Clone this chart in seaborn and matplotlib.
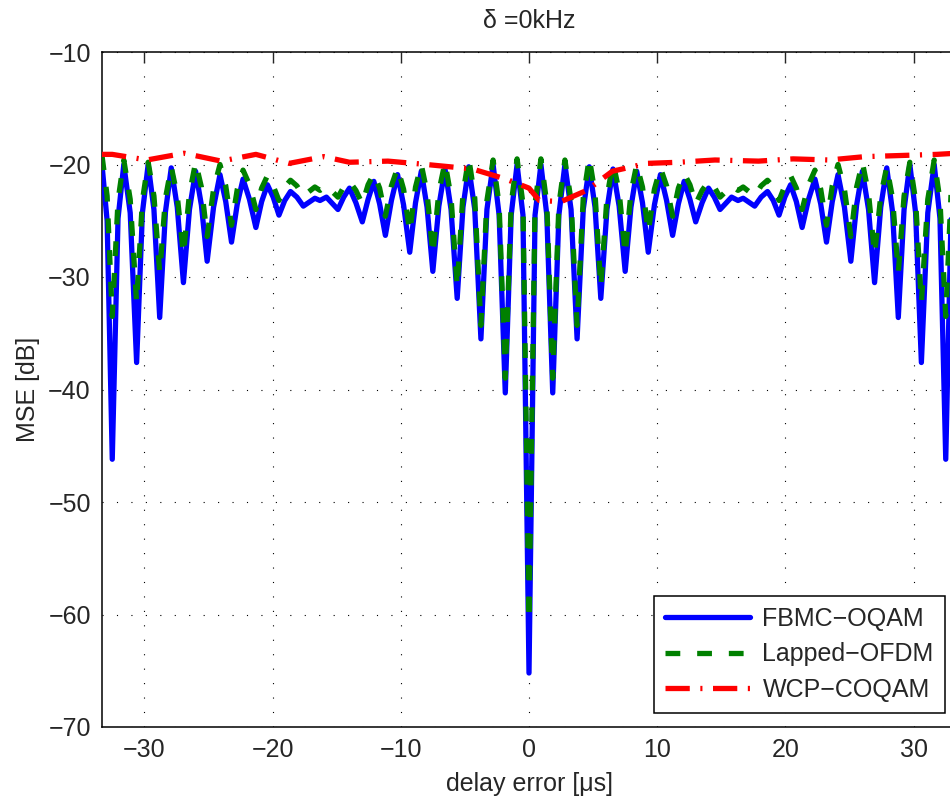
import numpy as np
import pandas as pd
import seaborn as sns
import matplotlib.pyplot as plt

# values (delay error in us, MSE in dB):
# peaks, dips and the level half way between them
x_fbmc = [-33.3, -32.9, -32.5, -32.05, -31.6, -31.1, -30.6, -30.15, -29.7, -29.25,
          -28.8, -28.35, -27.9, -27.43, -26.95, -26.48, -26.0, -25.55, -25.1, -24.6,
          -24.1, -23.65, -23.2, -22.75, -22.3, -21.8, -21.3, -20.85, -20.4, -19.95,
          -19.5, -19.05, -18.6, -18.1, -17.6, -16.7, -16.3, -15.8, -14.9, -14.45,
          -14.0, -13.5, -13.0, -12.55, -12.1, -11.65, -11.2, -10.73, -10.25, -9.78,
          -9.3, -8.85, -8.4, -7.95, -7.5, -7.03, -6.55, -6.08, -5.6, -5.15,
          -4.7, -4.23, -3.75, -3.28, -2.8, -2.33, -1.85, -1.39, -0.93, -0.47,
          0.0,
          0.47, 0.93, 1.39, 1.85, 2.33, 2.8, 3.28, 3.75, 4.23, 4.7,
          5.15, 5.6, 6.08, 6.55, 7.03, 7.5, 7.95, 8.4, 8.85, 9.3,
          9.78, 10.25, 10.73, 11.2, 11.65, 12.1, 12.55, 13.0, 13.5, 14.0,
          14.45, 14.9, 15.8, 16.3, 16.7, 17.6, 18.1, 18.6, 19.05, 19.5,
          19.95, 20.4, 20.85, 21.3, 21.8, 22.3, 22.75, 23.2, 23.65, 24.1,
          24.6, 25.1, 25.55, 26.0, 26.48, 26.95, 27.43, 27.9, 28.35, 28.8,
          29.25, 29.7, 30.15, 30.6, 31.1, 31.6, 32.05, 32.5, 32.9, 33.3]
mse_fbmc = [-20.0, -25.0, -46.2, -24.8, -20.0, -24.3, -37.6, -24.3, -20.0, -24.0,
            -33.6, -24.2, -20.3, -23.8, -30.5, -24.0, -20.6, -23.6, -28.6, -23.8,
            -20.9, -23.3, -26.9, -23.5, -21.3, -23.1, -25.6, -23.3, -21.8, -22.9,
            -24.5, -23.2, -22.4, -22.9, -23.7, -23.0, -23.2, -22.9, -24.0, -22.9,
            -22.1, -23.4, -25.1, -23.1, -21.5, -23.5, -26.3, -23.2, -20.9, -23.6,
            -27.8, -23.4, -20.6, -23.8, -29.5, -23.7, -20.4, -24.0, -31.9, -23.8,
            -20.2, -24.0, -35.5, -24.0, -20.0, -24.5, -40.3, -24.5, -20.0, -24.5,
            -65.2,
            -24.5, -20.0, -24.5, -40.3, -24.5, -20.0, -24.0, -35.5, -24.0, -20.2,
            -23.8, -31.9, -24.0, -20.4, -23.7, -29.5, -23.8, -20.6, -23.4, -27.8,
            -23.6, -20.9, -23.2, -26.3, -23.5, -21.5, -23.1, -25.1, -23.4, -22.1,
            -22.9, -24.0, -22.9, -23.2, -23.0, -23.7, -22.9, -22.4, -23.2, -24.5,
            -22.9, -21.8, -23.3, -25.6, -23.1, -21.3, -23.5, -26.9, -23.3, -20.9,
            -23.8, -28.6, -23.6, -20.6, -24.0, -30.5, -23.8, -20.3, -24.2, -33.6,
            -24.0, -20.0, -24.3, -37.6, -24.3, -20.0, -24.8, -46.2, -25.0, -20.5]

x_lofdm = x_fbmc
mse_lofdm = [-19.2, -22.8, -33.5, -23.2, -19.6, -23.1, -32.3, -23.2, -19.8, -22.8,
             -29.6, -23.0, -20.2, -22.8, -28.0, -22.6, -19.8, -22.0, -26.4, -22.2,
             -20.0, -21.9, -25.4, -22.2, -20.5, -21.8, -24.0, -22.1, -21.0, -21.9,
             -23.2, -22.0, -21.4, -21.9, -22.8, -22.0, -22.3, -21.9, -22.9, -22.0,
             -21.5, -22.3, -23.5, -21.8, -20.8, -22.1, -24.6, -21.9, -20.3, -22.2,
             -26.0, -22.0, -20.0, -22.5, -28.0, -22.4, -19.8, -22.9, -30.9, -22.6,
             -19.4, -23.0, -34.3, -23.2, -19.6, -23.6, -39.0, -23.5, -19.5, -23.5,
             -60.5,
             -23.5, -19.5, -23.5, -39.0, -23.6, -19.6, -23.2, -34.3, -23.0, -19.4,
             -22.6, -30.9, -22.9, -19.8, -22.4, -28.0, -22.5, -20.0, -22.0, -26.0,
             -22.2, -20.3, -21.9, -24.6, -22.1, -20.8, -21.8, -23.5, -22.3, -21.5,
             -22.0, -22.9, -21.9, -22.3, -22.0, -22.8, -21.9, -21.4, -22.0, -23.2,
             -21.9, -21.0, -22.1, -24.0, -21.8, -20.5, -22.2, -25.4, -21.9, -20.0,
             -22.2, -26.4, -22.0, -19.8, -22.6, -28.0, -22.8, -20.2, -23.0, -29.6,
             -22.8, -19.8, -23.2, -32.3, -23.1, -19.6, -23.2, -33.5, -22.8, -19.2]

x_wcp = [-33.3, -32.5, -29.8, -26.9, -24.0, -21.3, -18.7, -16.0, -14.0, -11.0,
         -8.0, -4.4, -1.8, 0.0, 0.8, 2.5, 4.5, 6.5, 9.2, 11.7,
         14.5, 17.9, 20.6, 23.4, 26.2, 29.0, 31.8, 33.3]
mse_wcp = [-19.1, -19.1, -19.6, -19.0, -19.7, -19.1, -19.9, -19.3, -19.8, -19.7,
           -20.0, -20.4, -21.3, -22.1, -23.2, -23.3, -22.3, -20.6, -19.9, -19.8,
           -19.6, -19.7, -19.5, -19.6, -19.3, -19.2, -19.1, -19.0]

x_ticks = [-30, -20, -10, 0, 10, 20, 30]
y_ticks = [-70, -60, -50, -40, -30, -20, -10]

sns.set_style("white")
plt.rcParams['font.family'] = ['Liberation Sans', 'DejaVu Sans']

fig = plt.figure(figsize=(9.5, 8.01), dpi=100)
ax = fig.add_axes([102 / 950, 74 / 801, 854 / 950, 675 / 801])

sns.lineplot(x=x_fbmc, y=mse_fbmc, ax=ax, color=(0, 0, 1), lw=3.8,
             label="FBMC\u2212OQAM", zorder=3)
sns.lineplot(x=x_lofdm, y=mse_lofdm, ax=ax, color=(0, 0.5, 0), lw=3.8,
             linestyle=(0, (2.8, 3.2)), label="Lapped\u2212OFDM", zorder=4)
sns.lineplot(x=x_wcp, y=mse_wcp, ax=ax, color=(1, 0, 0), lw=3.8,
             linestyle=(0, (4.6, 2.0, 0.4, 2.0)), label="WCP\u2212COQAM", zorder=5)

ax.set_xlim(-33.3, 33.3)
ax.set_ylim(-70, -10)
ax.set_xticks(x_ticks)
ax.set_yticks(y_ticks)
ax.grid(True, color="black", lw=0.8, linestyle=(0, (1, 12)))
ax.tick_params(direction="in", length=8, width=1, labelsize=18, top=True, right=False,
               pad=8)
for s in ax.spines.values():
    s.set_color("black")
    s.set_linewidth(1.1)
ax.spines["right"].set_visible(False)

ax.set_xlabel("delay error [\u03bcs]", fontsize=18, labelpad=7)
ax.set_ylabel("MSE [dB]", fontsize=18, labelpad=6)
ax.set_title("\u03b4 =0kHz", fontsize=18, pad=17)

leg = ax.legend(loc="lower right", bbox_to_anchor=(0.987, 0.021), borderaxespad=0,
                fontsize=18, handlelength=3.4, handletextpad=0.5, labelspacing=0.45,
                borderpad=0.45, fancybox=False, framealpha=1, edgecolor="black")
leg.get_frame().set_linewidth(1.1)

fig.savefig("out.png", dpi=100)
